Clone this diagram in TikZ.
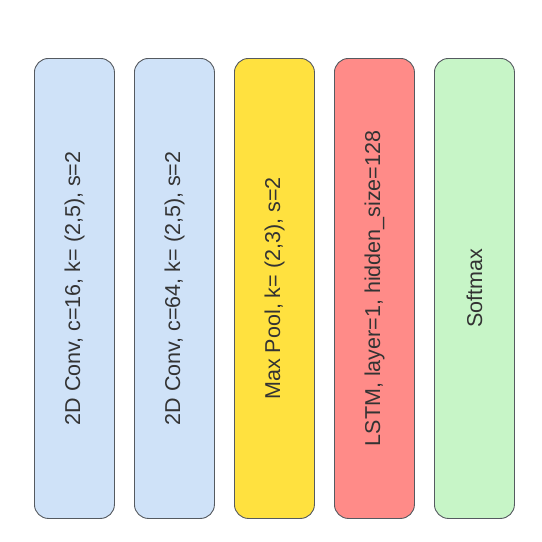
\documentclass[tikz,border=0pt]{standalone}
\usepackage{fontspec}
\setmainfont{Liberation Sans}
\definecolor{cblue}{HTML}{CFE2F8}
\definecolor{cyellow}{HTML}{FFE13F}
\definecolor{cred}{HTML}{FF8B88}
\definecolor{cgreen}{HTML}{C7F5C7}
\definecolor{cstroke}{HTML}{555A60}
\definecolor{ctext}{HTML}{333333}
\begin{document}
\begin{tikzpicture}[x=1pt,y=-1pt,
  layerbox/.style={draw=cstroke, line width=0.9pt, rounded corners=14pt,
    minimum width=80pt, minimum height=460pt, inner sep=0pt,
    anchor=north west},
  layertext/.style={rotate=90, text=ctext, font=\fontsize{21.5}{24}\selectfont}]
\useasboundingbox (0,0) rectangle (542,542);
\node[layerbox, fill=cblue]   (b1) at (34,58) {};
\node[layerbox, fill=cblue]   (b2) at (134,58) {};
\node[layerbox, fill=cyellow] (b3) at (234,58) {};
\node[layerbox, fill=cred]    (b4) at (334,58) {};
\node[layerbox, fill=cgreen]  (b5) at (434,58) {};
\node[layertext] (t1) at (b1.center) {2D Conv, c=16, k= (2,5), s=2};
\node[layertext] (t2) at (b2.center) {2D Conv, c=64, k= (2,5), s=2};
\node[layertext] (t3) at (b3.center) {Max Pool, k= (2,3), s=2};
\node[layertext] (t4) at (b4.center) {LSTM, layer=1, hidden\_size=128};
\node[layertext] (t5) at (b5.center) {Softmax};
\end{tikzpicture}
\end{document}
